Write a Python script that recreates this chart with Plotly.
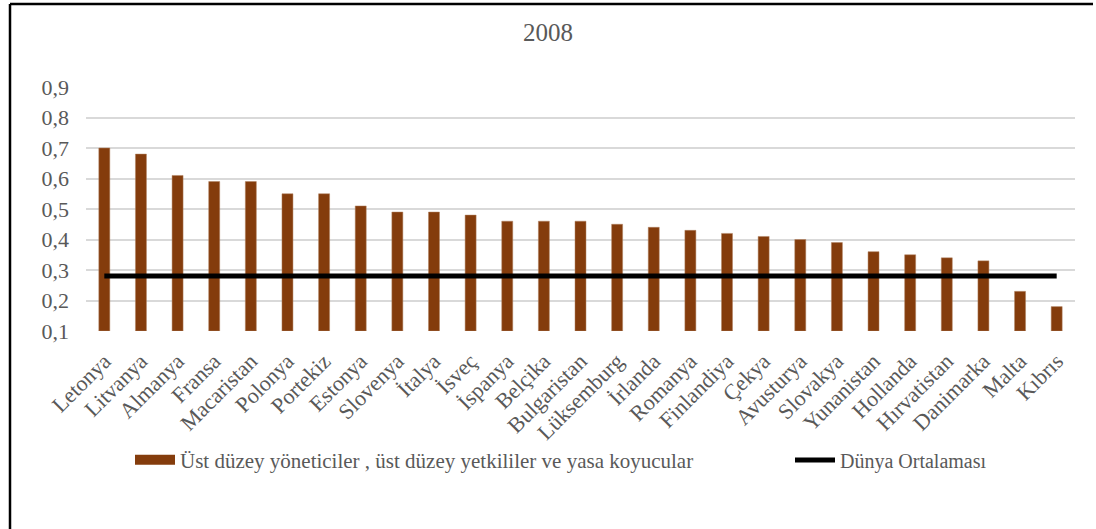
import plotly.graph_objects as go

countries = ["Letonya", "Litvanya", "Almanya", "Fransa", "Macaristan", "Polonya", "Portekiz",
             "Estonya", "Slovenya", "İtalya", "İsveç", "İspanya", "Belçika", "Bulgaristan",
             "Lüksemburg", "İrlanda", "Romanya", "Finlandiya", "Çekya", "Avusturya", "Slovakya",
             "Yunanistan", "Hollanda", "Hırvatistan", "Danimarka", "Malta", "Kıbrıs"]
managers = [0.70, 0.68, 0.61, 0.59, 0.59, 0.55, 0.55, 0.51, 0.49, 0.49, 0.48, 0.46, 0.46, 0.46,
            0.45, 0.44, 0.43, 0.42, 0.41, 0.40, 0.39, 0.36, 0.35, 0.34, 0.33, 0.23, 0.18]
world_avg = [0.28] * len(countries)
y_ticks = [0.1, 0.2, 0.3, 0.4, 0.5, 0.6, 0.7, 0.8, 0.9]

bar_name = "Üst düzey yöneticiler , üst düzey yetkililer ve yasa koyucular"
line_name = "Dünya Ortalaması"
brown = "#843C0C"
grey = "#595959"
font_family = "Liberation Serif"

fig = go.Figure()
fig.add_trace(go.Bar(x=countries, y=[v - 0.1 for v in managers], base=0.1, name=bar_name,
                     marker=dict(color=brown, line=dict(color="#B08060", width=0.5)),
                     showlegend=False, hoverinfo="x+y"))
fig.add_trace(go.Scatter(x=[None], y=[None], mode="lines", name=bar_name,
                         line=dict(color=brown, width=10), legend="legend"))
fig.add_trace(go.Scatter(x=countries, y=world_avg, mode="lines", name=line_name,
                         line=dict(color="black", width=5), legend="legend2"))

W, H = 1096, 529
L, R, T, B = 86, 21, 87, 198
pw, ph = W - L - R, H - T - B

def px_x(p):
    return (p - L) / pw

def px_y(p):
    return (H - B - p) / ph

fig.update_layout(
    width=W, height=H,
    margin=dict(l=L, r=R, t=T, b=B, autoexpand=False),
    paper_bgcolor="white", plot_bgcolor="white",
    separators=",.",
    font=dict(family=font_family, color=grey, size=20),
    title=dict(text="2008", x=0.5, xanchor="center", y=1 - 32 / H, yanchor="middle",
               font=dict(size=25, color=grey, family=font_family)),
    bargap=0.70,
    xaxis=dict(showgrid=False, showline=False, zeroline=False, tickangle=-45,
               tickfont=dict(size=22, color=grey, family=font_family), automargin=False,
               ticklabelstandoff=12, range=[-0.5, len(countries) - 0.5]),
    yaxis=dict(range=[0.1, 0.9], tickvals=y_ticks, tickformat=".1f", showgrid=True,
               gridcolor="#D9D9D9", gridwidth=1.5, zeroline=False, showline=False,
               tickfont=dict(size=22, color=grey, family=font_family), automargin=False,
               ticklabelstandoff=16),
    legend=dict(x=px_x(130), y=px_y(460), xanchor="left", yanchor="middle",
                orientation="h", font=dict(size=21, color=grey, family=font_family),
                bgcolor="rgba(0,0,0,0)", itemwidth=40),
    legend2=dict(x=px_x(790), y=px_y(460), xanchor="left", yanchor="middle",
                 orientation="h", font=dict(size=20, color=grey, family=font_family),
                 bgcolor="rgba(0,0,0,0)", itemwidth=40),
    shapes=[
        dict(type="line", xref="paper", yref="paper", x0=px_x(10), x1=px_x(10),
             y0=px_y(4), y1=px_y(529), line=dict(color="black", width=2.5), layer="above"),
        dict(type="line", xref="paper", yref="paper", x0=px_x(10), x1=px_x(1093),
             y0=px_y(4), y1=px_y(4), line=dict(color="black", width=2.5), layer="above"),
    ],
)

fig.write_html("out.html", config={"displayModeBar": False},
               post_script="document.body.style.margin='0px';")
